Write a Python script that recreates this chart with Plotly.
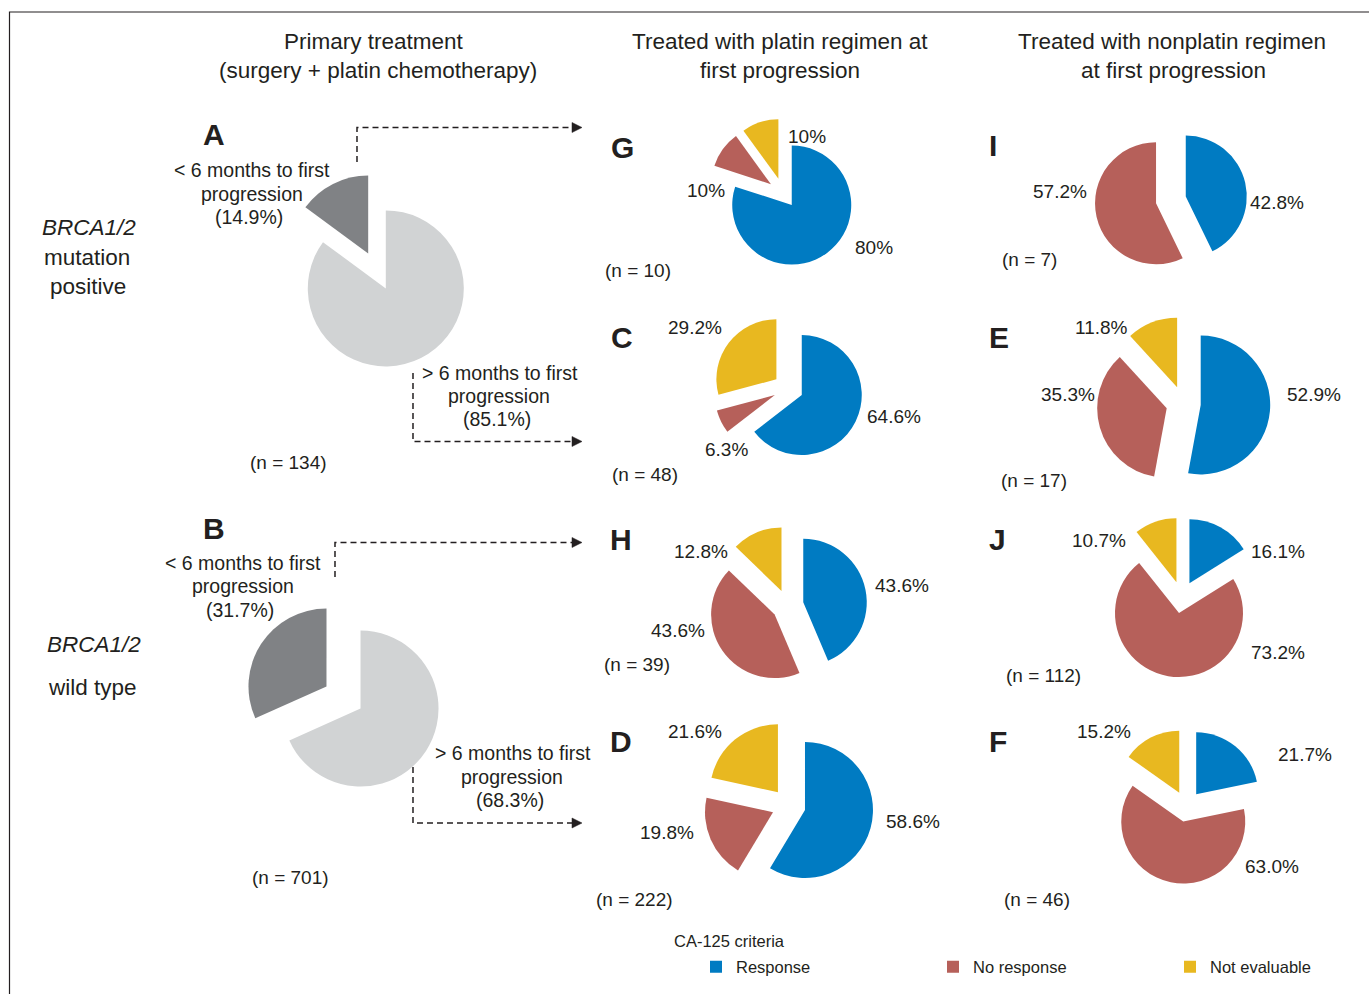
import plotly.graph_objects as go

W, H = 1369, 994

# ---------------- data ----------------
response_labels = ["Response", "No response", "Not evaluable"]
primary_labels = ["> 6 months to first progression", "< 6 months to first progression"]

# Primary treatment split (% of patients)
A_values = [85.1, 14.9]   # BRCA1/2 mutation positive
B_values = [68.3, 31.7]   # BRCA1/2 wild type
A_n = 134
B_n = 701

# CA-125 criteria: Response, No response, Not evaluable (%)
G_values = [80, 10, 10]
C_values = [64.6, 6.3, 29.2]
H_values = [43.6, 43.6, 12.8]
D_values = [58.6, 19.8, 21.6]
I_values = [42.8, 57.2]
E_values = [52.9, 35.3, 11.8]
J_values = [16.1, 73.2, 10.7]
F_values = [21.7, 63.0, 15.2]
n_values = {"G": 10, "C": 48, "H": 39, "D": 222, "I": 7, "E": 17, "J": 112, "F": 46}

col_titles = [["Primary treatment", "(surgery + platin chemotherapy)"],
              ["Treated with platin regimen at", "first progression"],
              ["Treated with nonplatin regimen", "at first progression"]]
row_titles = [["<i>BRCA1/2</i>", "mutation", "positive"], ["<i>BRCA1/2</i>", "wild type"]]

# ---------------- styles / layout ----------------
TXT = "#231F20"
FONT = "Liberation Sans, Arial, Helvetica, sans-serif"
resp_colors = ["#007BC2", "#B6605A", "#E8B820"]
primary_colors = ["#D1D3D4", "#808285"]

# pie geometry in pixels: centre x, centre y, radius, pull
geom = {
    "A": (377, 271, 78, 0.25),
    "B": (343.5, 697.5, 78, 0.26),
    "G": (783, 193, 59.5, 0.25),
    "C": (788.3, 388.4, 60, 0.25),
    "H": (787.7, 605.5, 63.5, 0.25),
    "D": (788.6, 805.5, 68, 0.25),
    "I": (1170.9, 199.9, 61, 0.25),
    "E": (1183.4, 403.4, 69.5, 0.25),
    "J": (1181.7, 597.3, 64, 0.25),
    "F": (1186.4, 806.4, 62, 0.25),
}


def dom(cx, cy, r, p):
    R = r * (1 + p)
    return dict(x=[(cx - R) / W, (cx + R) / W], y=[1 - (cy + R) / H, 1 - (cy - R) / H])


def px(x):
    return x / W


def py(y):
    return 1 - y / H


fig = go.Figure()

# primary pies
for key, vals in [("A", A_values), ("B", B_values)]:
    cx, cy, r, p = geom[key]
    fig.add_trace(go.Pie(labels=primary_labels, values=vals, sort=False, direction="clockwise",
                         rotation=0, pull=[p] * len(vals), marker=dict(colors=primary_colors),
                         textinfo="none", showlegend=False, domain=dom(cx, cy, r, p),
                         hoverinfo="label+percent"))

resp_data = {"G": G_values, "C": C_values, "H": H_values, "D": D_values,
             "I": I_values, "E": E_values, "J": J_values, "F": F_values}
for key in ["G", "C", "H", "D", "I", "E", "J", "F"]:
    vals = resp_data[key]
    cx, cy, r, p = geom[key]
    fig.add_trace(go.Pie(labels=response_labels[:len(vals)], values=vals, sort=False,
                         direction="clockwise", rotation=0, pull=[p] * len(vals),
                         marker=dict(colors=resp_colors[:len(vals)]), textinfo="none",
                         showlegend=True, domain=dom(cx, cy, r, p), hoverinfo="label+percent"))

ann = []


def text(t, x, y, size=19, **kw):
    ann.append(dict(text=t, x=px(x), y=py(y), xref="paper", yref="paper", showarrow=False,
                    xanchor=kw.pop("xanchor", "center"), yanchor="middle",
                    font=dict(size=size, color=TXT, family=FONT), **kw))


# column titles
title_pos = [(374, 378), (780, 780), (1172, 1173)]
for (x1, x2), lines in zip(title_pos, col_titles):
    text(lines[0], x1, 42, 22.5)
    text(lines[1], x2, 70, 22.5)

# row titles
for t, x, y in zip(row_titles[0], [89, 87, 88], [228, 257, 286]):
    text(t, x, y, 22.5)
for t, x, y in zip(row_titles[1], [94, 92], [644, 687]):
    text(t, x, y, 22.5)

# panel letters
letters = {"A": (214, 135), "B": (214, 528), "G": (622, 147), "C": (622, 337), "H": (621, 539),
           "D": (621, 741), "I": (993, 146), "E": (999, 337), "J": (997, 539), "F": (998, 741)}
for k, (x, y) in letters.items():
    text("<b>" + k + "</b>", x, y, 30)

# primary split labels
text("< 6 months to first", 252, 170, 19.5)
text("progression", 252, 194, 19.5)
text("({:.1f}%)".format(A_values[1]), 249, 217, 19.5)
text("> 6 months to first", 500, 373, 19.5)
text("progression", 499, 396, 19.5)
text("({:.1f}%)".format(A_values[0]), 497, 419, 19.5)
text("(n = {})".format(A_n), 288, 462, 19)

text("< 6 months to first", 243, 563, 19.5)
text("progression", 243, 586, 19.5)
text("({:.1f}%)".format(B_values[1]), 240, 610, 19.5)
text("> 6 months to first", 513, 753, 19.5)
text("progression", 512, 777, 19.5)
text("({:.1f}%)".format(B_values[0]), 510, 800, 19.5)
text("(n = {})".format(B_n), 290, 877, 19)

# percentage labels (Response, No response, Not evaluable)
pct_pos = {
    "G": [(874, 247), (706, 191), (807, 136)],
    "C": [(894, 416), (726, 450), (695, 327)],
    "H": [(902, 585), (678, 630), (701, 551)],
    "D": [(913, 821), (667, 832), (695, 731)],
    "I": [(1277, 203), (1060, 192)],
    "E": [(1314, 394), (1068, 394), (1101, 327)],
    "J": [(1278, 551), (1278, 652), (1099, 540)],
    "F": [(1305, 754), (1272, 866), (1104, 731)],
}
n_pos = {"G": (638, 271), "C": (645, 474), "H": (637, 664), "D": (634, 899),
         "I": (1029, 260), "E": (1034, 480), "J": (1043, 675), "F": (1037, 899)}
for key, vals in resp_data.items():
    fmt = "{:.0f}%" if key == "G" else "{:.1f}%"
    for v, (x, y) in zip(vals, pct_pos[key]):
        text(fmt.format(v), x, y, 19)
    x, y = n_pos[key]
    text("(n = {})".format(n_values[key]), x, y, 19)

# legend title
text("CA-125 criteria", 730, 941, 16.5)

# dashed arrows
shapes = []
arrows = [
    [(357, 162), (357, 127.5), (573, 127.5)],
    [(413, 373), (413, 441.5), (573, 441.5)],
    [(335, 577), (335, 542.5), (573, 542.5)],
    [(413, 767), (413, 823), (573, 823)],
]
for pts in arrows:
    path = "M " + " L ".join("{:.5f},{:.5f}".format(px(x), py(y)) for x, y in pts)
    shapes.append(dict(type="path", xref="paper", yref="paper", path=path,
                       line=dict(color=TXT, width=1.5, dash="6px,4px")))
    tx, ty = pts[-1][0] + 9, pts[-1][1]
    head = "M {:.5f},{:.5f} L {:.5f},{:.5f} L {:.5f},{:.5f} Z".format(
        px(tx - 10), py(ty - 5), px(tx), py(ty), px(tx - 10), py(ty + 5))
    shapes.append(dict(type="path", xref="paper", yref="paper", path=head,
                       fillcolor=TXT, line=dict(color=TXT, width=0.5)))

# frame
shapes.append(dict(type="rect", xref="paper", yref="paper", x0=px(9.5), x1=px(1400),
                   y0=py(1020), y1=py(12), line=dict(color=TXT, width=1.2)))

fig.update_layout(
    width=W, height=H,
    margin=dict(l=0, r=0, t=0, b=0, autoexpand=False),
    paper_bgcolor="white", plot_bgcolor="white",
    font=dict(family=FONT, color=TXT, size=16),
    annotations=ann, shapes=shapes,
    legend=dict(orientation="h", x=px(696), y=py(967), xanchor="left", yanchor="middle",
                font=dict(size=16.5, color=TXT, family=FONT), entrywidth=192,
                entrywidthmode="pixels", bgcolor="rgba(0,0,0,0)", borderwidth=0),
)

fig.write_html("out.html")
